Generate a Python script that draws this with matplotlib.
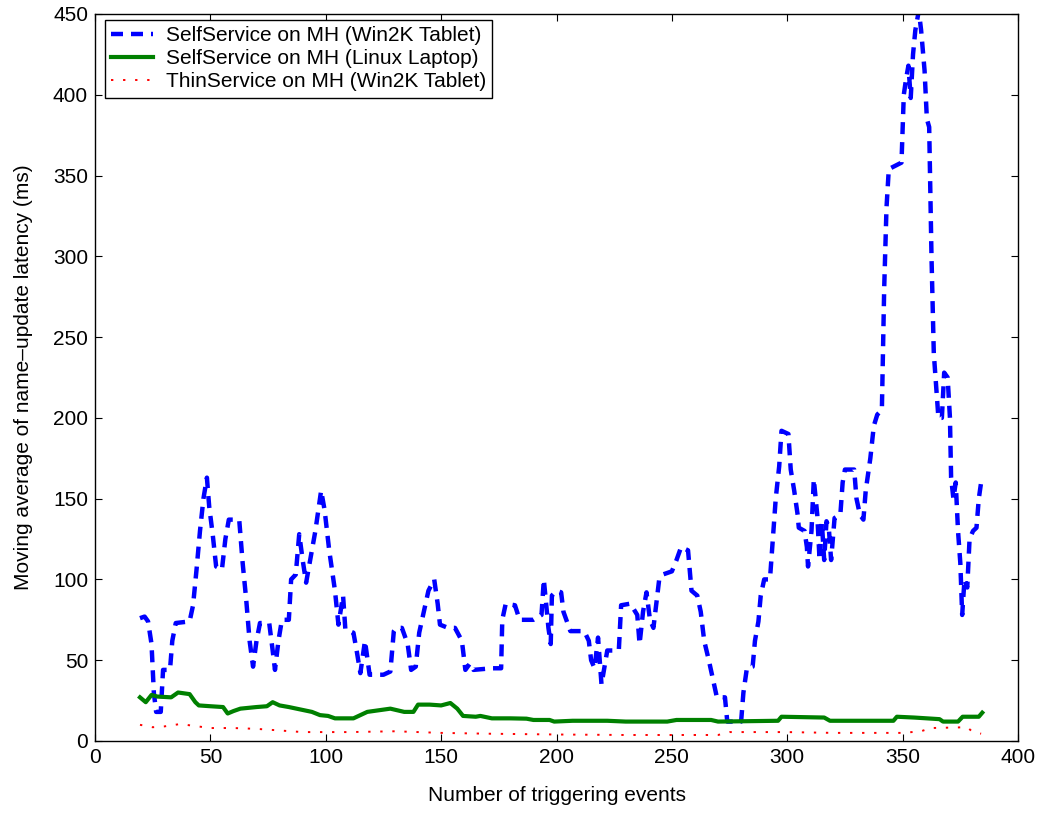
import matplotlib
matplotlib.use("Agg")
import matplotlib.pyplot as plt

plt.rcParams['font.family'] = ['Liberation Sans', 'DejaVu Sans']

## data
# SelfService on MH (Win2K Tablet)
win2k_x = [19.5, 21.5, 23, 24.5, 25.5, 26.5, 28.5, 29.5, 32.5, 33.5, 35, 41, 42.5, 44, 45.5, 47,
           48.5, 49.5, 51, 52.5, 55, 56.5, 58, 62.5, 64, 65.5, 67, 68.5, 70, 71.5, 75.5, 77, 78,
           79.5, 81, 84, 85, 87, 88.5, 90, 91.5, 93, 95.5, 98, 99.5, 101.5, 104, 105.5, 107.5,
           108.5, 112, 113.5, 115, 117, 119, 125, 128, 129.5, 130.5, 133, 135.5, 137, 139, 140.5,
           142.5, 144.5, 147, 148.5, 149.5, 153, 156, 159, 160.5, 162.5, 164, 172, 176, 176.5, 178,
           182, 184, 190, 193.5, 194.5, 196.5, 197.5, 198, 200, 202, 203, 206, 212, 214, 215, 216.5,
           218, 219.5, 222, 227, 228, 232, 235, 236, 237.5, 239, 240.5, 242, 243.5, 244.5, 246, 250,
           252, 254, 257, 258.5, 261, 262.5, 264, 266, 268, 269.5, 273, 274, 280, 281, 282.5, 285,
           286, 287.5, 288.5, 290, 292.5, 293.5, 295, 296.5, 297.5, 300.5, 301.5, 303, 304.5, 305,
           307.5, 308.5, 309, 310.5, 311.5, 313, 314, 315, 316, 317, 318, 319, 320.5, 323, 324, 325,
           329, 330, 331.5, 333, 334, 336, 337.5, 339, 341, 342, 343, 344, 349.5, 350.5, 351.5,
           352.5, 353.5, 354.5, 355.5, 357, 358, 359.5, 360.5, 361.5, 362.5, 363.5, 364.5, 365.5,
           367, 368, 369.5, 370.5, 371, 372, 373, 374, 375, 375.8, 376.8, 378, 379, 380.5, 382, 383,
           384]
win2k_y = [76, 77, 74, 60, 30, 18, 18, 44, 44, 62, 73, 74, 84, 106, 130, 150,
           163, 145, 128, 108, 106, 125, 137, 137, 110, 88, 62, 46, 62, 73, 73, 56, 44,
           62, 75, 75, 100, 103, 128, 112, 98, 110, 130, 155, 143, 118, 93, 72, 90,
           69, 67, 55, 42, 62, 41, 41, 43, 68, 70, 70, 60, 44, 46, 67,
           80, 93, 100, 85, 72, 70, 70, 62, 44, 48, 44, 45, 45, 75, 85,
           84, 75, 75, 78, 100, 70, 60, 90, 93, 92, 80, 68, 68, 62, 50, 45,
           64, 35, 56, 56, 84, 85, 78, 60, 80, 92, 75, 70, 88, 100, 103, 105,
           112, 120, 118, 93, 90, 80, 62, 50, 37, 27, 27, 12, 12, 30, 45, 46,
           62, 74, 90, 100, 100, 120, 150, 170, 192, 190, 168, 155, 140, 132,
           130, 120, 108, 130, 162, 140, 112, 135, 112, 136, 132, 112, 138, 140, 160, 168,
           168, 150, 140, 137, 155, 175, 195, 202, 205, 280, 330, 354, 358, 400, 410,
           418, 398, 425, 440, 452, 440, 415, 385, 380, 300, 240, 220, 200,
           200, 228, 225, 200, 163, 150, 160, 130, 110, 78, 100, 95, 125, 130, 132, 150,
           160]

# SelfService on MH (Linux Laptop)
linux_x = [19.5, 22, 24.5, 27, 33, 36, 41, 43.5, 45, 50, 55.5, 57.5, 60, 63, 70, 74.5, 77, 80,
           84, 89, 94, 97.5, 101, 104, 112, 115, 118, 123, 128, 131, 134, 138, 140, 145, 150,
           154, 157, 159.5, 165, 167, 172, 180, 187, 190, 197, 199, 207, 222, 230, 248, 252,
           267, 270, 296, 297.5, 316, 318.5, 346, 347.5, 355, 366, 367.5, 374, 376, 383, 384.5]
linux_y = [27, 24, 28.5, 27.5, 27, 30, 29, 24, 22, 21.5, 21, 17, 18.5, 20, 21, 21.5, 24, 22,
           21, 19.5, 18, 16, 15.5, 14, 14, 16, 18, 19, 20, 19, 18, 18, 22.5, 22.5, 22,
           23.5, 20, 15.5, 15, 15.5, 14, 14, 13.8, 13, 13, 12, 12.5, 12.5, 12, 12, 13,
           13, 12, 12.5, 15, 14.5, 12.5, 12.5, 15, 14.5, 13.5, 12, 12, 15, 15, 17.5]

# ThinService on MH (Win2K Tablet)
thin_x = [19.5, 25, 30, 37, 42, 50, 60, 70, 80, 90, 100, 110, 130, 150, 170, 200, 230, 270,
          275, 300, 320, 350, 358, 362, 378, 380, 384]
thin_y = [10, 8.5, 9, 10.5, 9.5, 8, 8, 7.5, 6.5, 5.5, 5.5, 5.5, 6, 5, 4.5, 4, 3.7, 3.7,
          5.5, 5.5, 5, 5, 6, 8, 8.5, 6, 4.5]

fig = plt.figure(figsize=(10.37, 8.13), dpi=100)
ax = fig.add_axes([0.0916, 0.0886, 0.8901, 0.8942])

ax.plot(win2k_x, win2k_y, color='blue', lw=3.2, linestyle=(0, (2.7, 1.8)),
        label='SelfService on MH (Win2K Tablet)')
ax.plot(linux_x, linux_y, color='green', lw=3.0, label='SelfService on MH (Linux Laptop)')
ax.plot(thin_x, thin_y, color='red', lw=1.4, linestyle=(0, (1.2, 5)),
        label='ThinService on MH (Win2K Tablet)')

ax.set_xlim(0, 400)
ax.set_ylim(0, 450)
ax.set_xticks(range(0, 401, 50))
ax.set_yticks(range(0, 451, 50))
ax.tick_params(direction='in', top=True, right=True, length=5, labelsize=15, pad=5)
for s in ax.spines.values():
    s.set_linewidth(1.0)

ax.set_xlabel('Number of triggering events', fontsize=15, labelpad=14)
ax.set_ylabel('Moving average of name\u2013update latency (ms)', fontsize=15, labelpad=14)

leg = ax.legend(loc='upper left', bbox_to_anchor=(0.011, 0.992), borderaxespad=0,
                fontsize=15, fancybox=False, framealpha=1, edgecolor='black',
                handlelength=2.0, labelspacing=0.2, borderpad=0.3, handletextpad=0.6)
leg.get_frame().set_linewidth(1.0)

fig.savefig('out.png', dpi=100)
